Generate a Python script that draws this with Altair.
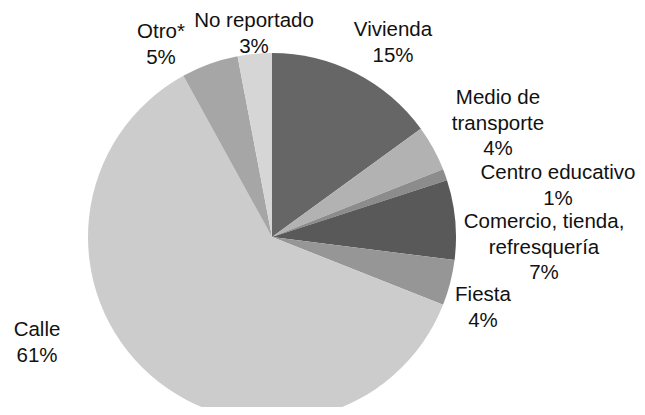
import altair as alt
import pandas as pd

categories = ["Vivienda", "Medio de transporte", "Centro educativo",
              "Comercio, tienda, refresquería", "Fiesta", "Calle", "Otro*", "No reportado"]
percent = [15, 4, 1, 7, 4, 61, 5, 3]
colors = ["#666666", "#b2b2b2", "#8c8c8c", "#595959", "#969696", "#cccccc", "#a6a6a6", "#d6d6d6"]
label_lines = ["Vivienda", "Medio de\ntransporte", "Centro educativo",
               "Comercio, tienda,\nrefresquería", "Fiesta", "Calle", "Otro*", "No reportado"]
# label anchor positions (layout, pixels; y is the first line)
label_x = [385, 490, 550, 536, 475, 29, 153, 246]
label_y = [22, 90, 165, 214, 287, 322, 24, 13]

df = pd.DataFrame({
    "idx": list(range(len(categories))),
    "category": categories,
    "value": percent,
    "label": [f"{l}\n{p}%" for l, p in zip(label_lines, percent)],
    "lx": label_x,
    "ly": label_y,
})

pie = alt.Chart(df).mark_arc(radius=184).encode(
    theta=alt.Theta("value:Q", stack=True),
    color=alt.Color("category:N", scale=alt.Scale(domain=categories, range=colors), legend=None),
    order=alt.Order("idx:Q"),
    x=alt.value(264),
    y=alt.value(229),
)

labels = alt.Chart(df).mark_text(
    lineBreak="\n", fontSize=20.5, font="Liberation Sans", lineHeight=25.5,
    baseline="middle", align="center", color="#111111"
).encode(
    x=alt.X("lx:Q", scale=None),
    y=alt.Y("ly:Q", scale=None),
    text="label:N",
)

chart = (pie + labels).properties(
    width=629, height=399, autosize="none", padding=0
).configure_view(stroke=None)

chart.save("out.html", embed_options={"renderer": "svg", "actions": False})
